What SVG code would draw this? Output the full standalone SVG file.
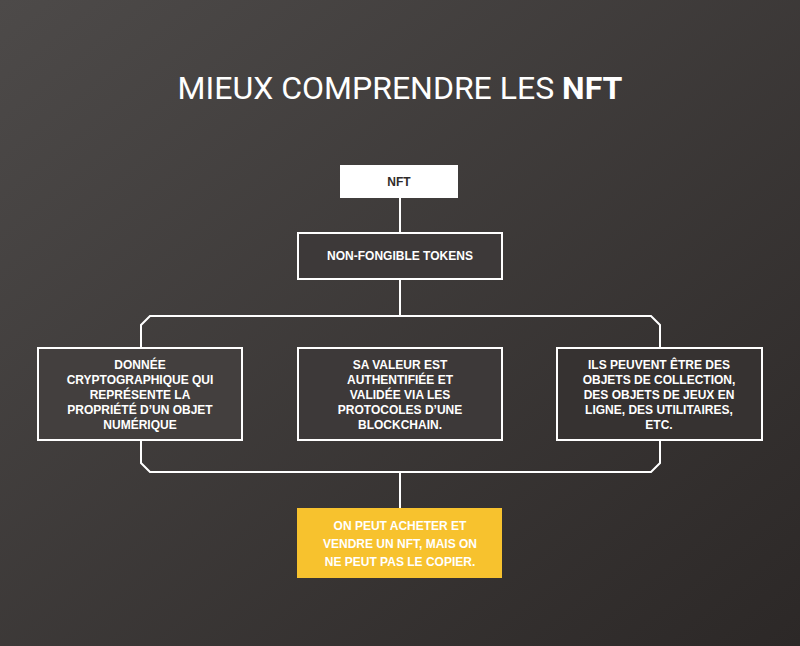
<svg xmlns="http://www.w3.org/2000/svg" width="800" height="646" viewBox="0 0 800 646">
<defs>
<linearGradient id="bg" x1="0" y1="0" x2="1" y2="1">
<stop offset="0" stop-color="#4d4a49"/><stop offset="1" stop-color="#2c2827"/>
</linearGradient>
<style>
.b{stroke:#fff;stroke-width:2}
.t{font-family:"Liberation Sans",Arial,sans-serif;font-weight:bold;font-size:12px;fill:#fff;text-anchor:middle}
.c{fill:none;stroke:#fff;stroke-width:2}
</style>
</defs>
<rect width="800" height="646" fill="url(#bg)"/>
<text x="400" y="99" font-family="Roboto,'Liberation Sans',sans-serif" font-size="32" fill="#fff" text-anchor="middle">MIEUX COMPRENDRE LES <tspan font-weight="bold">NFT</tspan></text>
<g id="connectors">
<path class="c" d="M400 198V233M400 279V316M150 316H651L660 325V463L651 472H150L141 463V325Z M400 472V508"/>
</g>
<g id="nft"><rect x="340" y="165" width="118" height="33" fill="#fff"/><text class="t" x="399" y="186" style="fill:#2f2b2a">NFT</text></g>
<g id="tokens"><rect class="b" x="298" y="233" width="204" height="46" style="fill:#3d3939"/><text class="t" x="400" y="260">NON-FONGIBLE TOKENS</text></g>
<g id="left"><rect class="b" x="38" y="348" width="204" height="92" style="fill:#433f3e"/>
<text class="t" x="140" y="369">DONNÉE</text><text class="t" x="140" y="384">CRYPTOGRAPHIQUE QUI</text><text class="t" x="140" y="399">REPRÉSENTE LA</text><text class="t" x="140" y="414">PROPRIÉTÉ D’UN OBJET</text><text class="t" x="140" y="429">NUMÉRIQUE</text></g>
<g id="middle"><rect class="b" x="298" y="348" width="204" height="92" style="fill:#3d3939"/>
<text class="t" x="400" y="369">SA VALEUR EST</text><text class="t" x="400" y="384">AUTHENTIFIÉE ET</text><text class="t" x="400" y="399">VALIDÉE VIA LES</text><text class="t" x="400" y="414">PROTOCOLES D’UNE</text><text class="t" x="400" y="429">BLOCKCHAIN.</text></g>
<g id="right"><rect class="b" x="557" y="348" width="205" height="92" style="fill:#363231"/>
<text class="t" x="659" y="369">ILS PEUVENT ÊTRE DES</text><text class="t" x="659" y="384">OBJETS DE COLLECTION,</text><text class="t" x="659" y="399">DES OBJETS DE JEUX EN</text><text class="t" x="659" y="414">LIGNE, DES UTILITAIRES,</text><text class="t" x="659" y="429">ETC.</text></g>
<g id="bottom"><rect x="297" y="508" width="205" height="70" fill="#f7c22e"/>
<text class="t" x="400" y="530">ON PEUT ACHETER ET</text><text class="t" x="400" y="548">VENDRE UN NFT, MAIS ON</text><text class="t" x="400" y="566">NE PEUT PAS LE COPIER.</text></g>
</svg>
